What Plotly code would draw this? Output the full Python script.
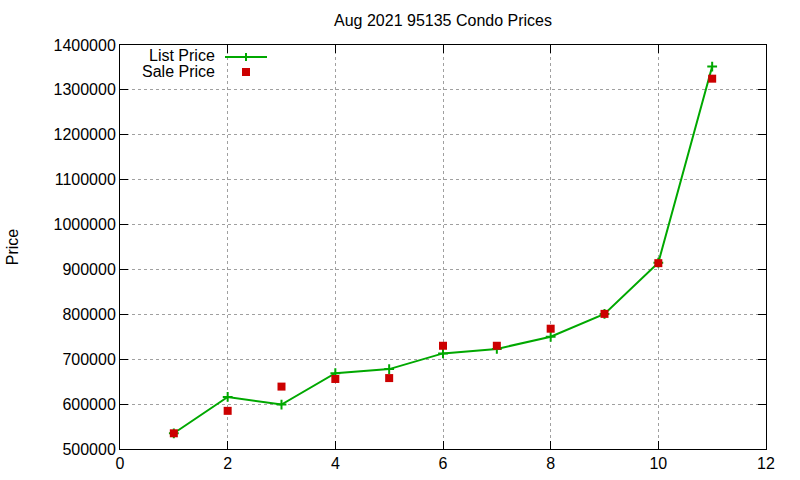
import plotly.graph_objects as go

x_vals = [1, 2, 3, 4, 5, 6, 7, 8, 9, 10, 11]
list_price = [535000, 616000, 599000, 669000, 678000, 713000, 723000, 750000, 801000, 915000, 1352000]
sale_price = [535000, 585000, 639000, 656000, 658000, 730000, 730000, 768000, 801000, 914000, 1325000]
y_ticks = [500000, 600000, 700000, 800000, 900000, 1000000, 1100000, 1200000, 1300000, 1400000]
x_ticks = [0, 2, 4, 6, 8, 10, 12]

GREEN = "#00a800"
RED = "#cc0000"
FONT = "Liberation Sans, Arial, sans-serif"
FS = 16

fig = go.Figure()
fig.add_trace(go.Scatter(
    x=x_vals, y=list_price, mode="lines+markers", name="List Price",
    line=dict(color=GREEN, width=2),
    marker=dict(symbol="cross-thin", size=7, line=dict(color=GREEN, width=2), color=GREEN),
    showlegend=False,
))
fig.add_trace(go.Scatter(
    x=x_vals, y=sale_price, mode="markers", name="Sale Price",
    marker=dict(symbol="square", size=8, color=RED),
    showlegend=False,
))

axis_common = dict(
    showline=True, linecolor="black", linewidth=1, mirror="ticks",
    ticks="inside", ticklen=8, tickcolor="black",
    showgrid=True, gridcolor="#a0a0a0", griddash="dot", gridwidth=1,
    zeroline=False, tickfont=dict(family=FONT, size=FS, color="black"),
    automargin=False,
)

fig.update_xaxes(range=[0, 12], tickvals=x_ticks, **axis_common)
fig.update_yaxes(range=[500000, 1400000], tickvals=y_ticks, tickformat="d",
                 title=dict(text="Price", font=dict(family=FONT, size=FS, color="black"), standoff=30),
                 **axis_common)

W, H = 800, 480
L, R, T, B = 120, 34, 45, 31
pw, ph = W - L - R, H - T - B

def px(xp):
    return (xp - L) / pw

def py(yp):
    return (H - B - yp) / ph

# custom gnuplot-style legend (text left of sample)
fig.add_annotation(x=px(216), y=py(55), xref="paper", yref="paper", text="List Price",
                   showarrow=False, xanchor="right", yanchor="middle", borderpad=0,
                   font=dict(family=FONT, size=FS, color="black"))
fig.add_annotation(x=px(216), y=py(72), xref="paper", yref="paper", text="Sale Price",
                   showarrow=False, xanchor="right", yanchor="middle", borderpad=0,
                   font=dict(family=FONT, size=FS, color="black"))
fig.add_shape(type="line", xref="paper", yref="paper", x0=px(225), x1=px(267), y0=py(57), y1=py(57),
              line=dict(color=GREEN, width=2))
fig.add_shape(type="line", xref="paper", yref="paper", x0=px(246), x1=px(246), y0=py(53), y1=py(61),
              line=dict(color=GREEN, width=2))
fig.add_shape(type="rect", xref="paper", yref="paper", x0=px(242), x1=px(250), y0=py(68), y1=py(76),
              line=dict(color=RED, width=0), fillcolor=RED)

fig.update_layout(
    width=W, height=H,
    margin=dict(l=L, r=R, t=T, b=B),
    paper_bgcolor="white", plot_bgcolor="white",
    title=dict(text="Aug 2021 95135 Condo Prices", x=0.5, xref="paper", y=1 - 20 / H, yanchor="middle",
               font=dict(family=FONT, size=FS, color="black")),
    font=dict(family=FONT, color="black"),
)

fig.write_html("out.html")
